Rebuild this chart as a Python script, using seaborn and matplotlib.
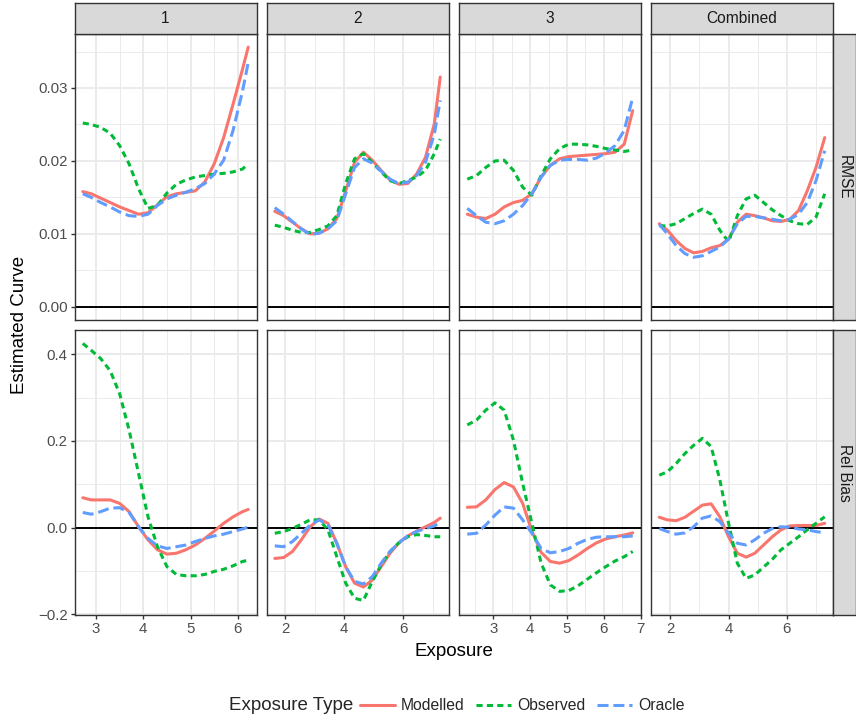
import pandas as pd
import matplotlib.pyplot as plt
import seaborn as sns
from matplotlib.lines import Line2D
from matplotlib.ticker import FixedLocator, FuncFormatter

groups = ['1', '2', '3', 'Combined']
metrics = ['RMSE', 'Rel Bias']
exposure_types = ['Modelled', 'Observed', 'Oracle']

# exposure grid for each column
x_1 = [2.72, 2.9, 3.1, 3.3, 3.5, 3.7, 3.9, 4.1, 4.3, 4.5, 4.7, 4.9, 5.1, 5.3, 5.5, 5.7, 5.9, 6.1, 6.22]
x_2 = [1.65, 1.95, 2.25, 2.55, 2.85, 3.15, 3.45, 3.75, 4.05, 4.35, 4.65, 4.95, 5.25, 5.55, 5.85, 6.15, 6.45, 6.75, 7.05, 7.25]
x_3 = [2.3, 2.55, 2.8, 3.05, 3.3, 3.55, 3.8, 4.05, 4.3, 4.55, 4.8, 5.05, 5.3, 5.55, 5.8, 6.05, 6.3, 6.55, 6.78]
x_comb = [1.62, 1.9, 2.2, 2.5, 2.8, 3.1, 3.4, 3.7, 4.0, 4.3, 4.6, 4.9, 5.2, 5.5, 5.8, 6.1, 6.4, 6.7, 7.0, 7.3]

# RMSE
rmse_modelled_1 = [0.0158, 0.0155, 0.0149, 0.0143, 0.0137, 0.0132, 0.0127, 0.0129, 0.0140, 0.0151, 0.0155, 0.0157, 0.0159, 0.0171, 0.0196, 0.0232, 0.0278, 0.0326, 0.0356]
rmse_observed_1 = [0.0252, 0.0250, 0.0246, 0.0238, 0.0221, 0.0196, 0.0162, 0.0135, 0.0139, 0.0156, 0.0168, 0.0174, 0.0178, 0.0180, 0.0182, 0.0183, 0.0185, 0.0189, 0.0196]
rmse_oracle_1 = [0.0155, 0.0150, 0.0143, 0.0137, 0.0130, 0.0125, 0.0124, 0.0127, 0.0139, 0.0148, 0.0153, 0.0157, 0.0162, 0.0169, 0.0182, 0.0201, 0.0242, 0.0296, 0.0335]

rmse_modelled_2 = [0.0131, 0.0125, 0.0116, 0.0107, 0.0100, 0.0101, 0.0107, 0.0121, 0.0159, 0.0198, 0.0212, 0.0201, 0.0187, 0.0174, 0.0168, 0.0169, 0.0182, 0.0205, 0.0251, 0.0315]
rmse_observed_2 = [0.0112, 0.0109, 0.0105, 0.0102, 0.0102, 0.0106, 0.0111, 0.0125, 0.0169, 0.0203, 0.0210, 0.0198, 0.0185, 0.0173, 0.0169, 0.0173, 0.0178, 0.0187, 0.0210, 0.0230]
rmse_oracle_2 = [0.0136, 0.0127, 0.0117, 0.0107, 0.0099, 0.0101, 0.0107, 0.0118, 0.0155, 0.0191, 0.0203, 0.0197, 0.0186, 0.0175, 0.0169, 0.0171, 0.0180, 0.0198, 0.0237, 0.0283]

rmse_modelled_3 = [0.0127, 0.0123, 0.0121, 0.0127, 0.0137, 0.0143, 0.0146, 0.0155, 0.0178, 0.0194, 0.0203, 0.0206, 0.0207, 0.0208, 0.0209, 0.0210, 0.0212, 0.0223, 0.0269]
rmse_observed_3 = [0.0175, 0.0180, 0.0191, 0.0200, 0.0201, 0.0187, 0.0164, 0.0153, 0.0180, 0.0203, 0.0217, 0.0223, 0.0223, 0.0222, 0.0220, 0.0217, 0.0215, 0.0213, 0.0215]
rmse_oracle_3 = [0.0135, 0.0125, 0.0116, 0.0114, 0.0118, 0.0127, 0.0139, 0.0155, 0.0178, 0.0194, 0.0201, 0.0202, 0.0202, 0.0201, 0.0204, 0.0211, 0.0221, 0.0242, 0.0287]

rmse_modelled_comb = [0.0114, 0.0105, 0.0091, 0.0080, 0.0074, 0.0076, 0.0081, 0.0084, 0.0093, 0.0116, 0.0127, 0.0125, 0.0122, 0.0118, 0.0117, 0.0120, 0.0132, 0.0159, 0.0191, 0.0232]
rmse_observed_comb = [0.0111, 0.0111, 0.0114, 0.0121, 0.0128, 0.0134, 0.0127, 0.0105, 0.0089, 0.0125, 0.0148, 0.0153, 0.0143, 0.0133, 0.0125, 0.0118, 0.0114, 0.0113, 0.0123, 0.0155]
rmse_oracle_comb = [0.0113, 0.0100, 0.0084, 0.0073, 0.0068, 0.0070, 0.0076, 0.0082, 0.0093, 0.0114, 0.0124, 0.0124, 0.0122, 0.0120, 0.0118, 0.0120, 0.0127, 0.0143, 0.0173, 0.0214]

# relative bias
relbias_modelled_1 = [0.069, 0.064, 0.064, 0.064, 0.056, 0.037, 0.002, -0.028, -0.051, -0.061, -0.059, -0.051, -0.040, -0.025, -0.008, 0.010, 0.025, 0.037, 0.042]
relbias_observed_1 = [0.425, 0.409, 0.390, 0.362, 0.309, 0.225, 0.125, 0.025, -0.044, -0.090, -0.108, -0.111, -0.111, -0.108, -0.101, -0.096, -0.088, -0.078, -0.075]
relbias_oracle_1 = [0.035, 0.031, 0.037, 0.045, 0.046, 0.035, 0.002, -0.025, -0.042, -0.048, -0.044, -0.040, -0.032, -0.025, -0.019, -0.015, -0.009, -0.003, 0.001]

relbias_modelled_2 = [-0.071, -0.069, -0.055, -0.028, 0.002, 0.020, 0.010, -0.036, -0.090, -0.128, -0.137, -0.121, -0.090, -0.059, -0.035, -0.019, -0.008, 0.002, 0.012, 0.022]
relbias_observed_2 = [-0.013, -0.009, -0.002, 0.008, 0.018, 0.018, -0.005, -0.067, -0.128, -0.163, -0.168, -0.124, -0.086, -0.055, -0.035, -0.021, -0.016, -0.018, -0.021, -0.021]
relbias_oracle_2 = [-0.042, -0.044, -0.032, -0.013, 0.006, 0.018, 0.006, -0.036, -0.090, -0.124, -0.130, -0.113, -0.082, -0.055, -0.035, -0.019, -0.009, -0.002, 0.004, 0.012]

relbias_modelled_3 = [0.047, 0.048, 0.064, 0.088, 0.104, 0.094, 0.056, -0.008, -0.057, -0.078, -0.082, -0.076, -0.063, -0.048, -0.035, -0.026, -0.021, -0.017, -0.012]
relbias_observed_3 = [0.237, 0.248, 0.271, 0.288, 0.271, 0.202, 0.102, 0.010, -0.082, -0.132, -0.147, -0.145, -0.134, -0.119, -0.104, -0.090, -0.077, -0.067, -0.055]
relbias_oracle_3 = [-0.015, -0.013, 0.006, 0.029, 0.048, 0.045, 0.018, -0.013, -0.048, -0.058, -0.055, -0.048, -0.036, -0.027, -0.022, -0.021, -0.021, -0.021, -0.019]

relbias_modelled_comb = [0.024, 0.018, 0.016, 0.024, 0.038, 0.052, 0.055, 0.025, -0.021, -0.059, -0.068, -0.059, -0.040, -0.021, -0.005, 0.004, 0.005, 0.005, 0.005, 0.010]
relbias_observed_comb = [0.121, 0.129, 0.148, 0.171, 0.190, 0.206, 0.187, 0.110, 0.010, -0.082, -0.117, -0.109, -0.091, -0.073, -0.051, -0.036, -0.021, -0.005, 0.010, 0.025]
relbias_oracle_comb = [-0.002, -0.009, -0.015, -0.012, 0.002, 0.022, 0.027, 0.014, -0.013, -0.036, -0.040, -0.028, -0.013, -0.002, 0.002, 0.001, -0.003, -0.005, -0.009, -0.012]

x_by_group = {'1': x_1, '2': x_2, '3': x_3, 'Combined': x_comb}
curves = {
    ('1', 'RMSE'): [rmse_modelled_1, rmse_observed_1, rmse_oracle_1],
    ('2', 'RMSE'): [rmse_modelled_2, rmse_observed_2, rmse_oracle_2],
    ('3', 'RMSE'): [rmse_modelled_3, rmse_observed_3, rmse_oracle_3],
    ('Combined', 'RMSE'): [rmse_modelled_comb, rmse_observed_comb, rmse_oracle_comb],
    ('1', 'Rel Bias'): [relbias_modelled_1, relbias_observed_1, relbias_oracle_1],
    ('2', 'Rel Bias'): [relbias_modelled_2, relbias_observed_2, relbias_oracle_2],
    ('3', 'Rel Bias'): [relbias_modelled_3, relbias_observed_3, relbias_oracle_3],
    ('Combined', 'Rel Bias'): [relbias_modelled_comb, relbias_observed_comb, relbias_oracle_comb],
}

rows = []
for (g, m), series in curves.items():
    for t, ys in zip(exposure_types, series):
        for xv, yv in zip(x_by_group[g], ys):
            rows.append((g, m, t, xv, yv))
df = pd.DataFrame(rows, columns=['Group', 'Metric', 'Exposure Type', 'Exposure', 'Estimated Curve'])

# styling
palette = {'Modelled': '#F8766D', 'Observed': '#00BA38', 'Oracle': '#619CFF'}
dashes = {'Modelled': '', 'Observed': (2.0, 1.4), 'Oracle': (3.6, 1.6)}
LW = 2.2

sns.set_theme(style='white')
plt.rcParams['font.family'] = ['Liberation Sans', 'DejaVu Sans']

W, H = 856, 720


def box(left, top, width, height):
    return [left / W, 1 - (top + height) / H, width / W, height / H]


col_left = [74.5, 266.5, 459, 651]
col_w = 182
row_top = [34, 330]
row_h = [286, 285]
ylims = {'RMSE': (-0.0018, 0.0374), 'Rel Bias': (-0.2015, 0.456)}
y_major = {'RMSE': [0, 0.01, 0.02, 0.03], 'Rel Bias': [-0.2, 0, 0.2, 0.4]}
y_minor = {'RMSE': [0.005, 0.015, 0.025, 0.035], 'Rel Bias': [-0.1, 0.1, 0.3]}
x_major = {'1': [3, 4, 5, 6], '2': [2, 4, 6], '3': [3, 4, 5, 6, 7], 'Combined': [2, 4, 6]}
x_minor = {'1': [3.5, 4.5, 5.5], '2': [1, 3, 5, 7], '3': [2.5, 3.5, 4.5, 5.5, 6.5], 'Combined': [1, 3, 5, 7]}

fig = plt.figure(figsize=(W / 100, H / 100), dpi=100)
fig.patch.set_facecolor('white')

for r, m in enumerate(metrics):
    for c, g in enumerate(groups):
        ax = fig.add_axes(box(col_left[c], row_top[r], col_w, row_h[r]))
        sub = df[(df['Group'] == g) & (df['Metric'] == m)]
        sns.lineplot(data=sub, x='Exposure', y='Estimated Curve', hue='Exposure Type',
                     style='Exposure Type', hue_order=exposure_types, style_order=exposure_types,
                     palette=palette, dashes=dashes, linewidth=LW, errorbar=None,
                     legend=False, ax=ax, zorder=3)
        ax.axhline(0, color='black', lw=1.4, zorder=2)

        xs = x_by_group[g]
        pad = (max(xs) - min(xs)) * 0.05
        ax.set_xlim(min(xs) - pad, max(xs) + pad)
        ax.set_ylim(*ylims[m])

        ax.xaxis.set_major_locator(FixedLocator(x_major[g]))
        ax.xaxis.set_minor_locator(FixedLocator(x_minor[g]))
        ax.yaxis.set_major_locator(FixedLocator(y_major[m]))
        ax.yaxis.set_minor_locator(FixedLocator(y_minor[m]))
        ax.xaxis.set_major_formatter(FuncFormatter(lambda v, p: f'{v:g}'))
        if m == 'RMSE':
            ax.yaxis.set_major_formatter(FuncFormatter(lambda v, p: f'{v:.2f}'))
        else:
            ax.yaxis.set_major_formatter(FuncFormatter(lambda v, p: f'{v:.1f}'.replace('-', '\u2212')))

        ax.grid(which='major', color='#EBEBEB', lw=1.4)
        ax.grid(which='minor', color='#EBEBEB', lw=0.7)
        ax.set_axisbelow(True)
        for s in ax.spines.values():
            s.set_color('#333333')
            s.set_linewidth(1.0)

        ax.tick_params(which='major', length=2.75, width=1.0, color='#333333',
                       labelsize=10.8, labelcolor='#4D4D4D', pad=2.2,
                       bottom=(r == 1), labelbottom=(r == 1),
                       left=(c == 0), labelleft=(c == 0))
        ax.tick_params(which='minor', length=0)
        ax.set_xlabel('')
        ax.set_ylabel('')

        # column strip on top
        if r == 0:
            sax = fig.add_axes(box(col_left[c], 3, col_w, 31))
            sax.set_facecolor('#D9D9D9')
            sax.set_xticks([])
            sax.set_yticks([])
            for s in sax.spines.values():
                s.set_color('#333333')
                s.set_linewidth(1.0)
            sax.text(0.5, 0.5, g, ha='center', va='center', fontsize=11.2,
                     color='#1A1A1A', transform=sax.transAxes)

    # row strip on the right
    rax = fig.add_axes(box(833, row_top[r], 23, row_h[r]))
    rax.set_facecolor('#D9D9D9')
    rax.set_xticks([])
    rax.set_yticks([])
    for s in rax.spines.values():
        s.set_color('#333333')
        s.set_linewidth(1.0)
    rax.text(0.5, 0.5, m, ha='center', va='center', rotation=-90, fontsize=11.2,
             color='#1A1A1A', transform=rax.transAxes)

fig.text(20 / W, 1 - 324.5 / H, 'Estimated Curve', rotation=90, ha='center', va='center',
         fontsize=13.5, color='black')
fig.text(453.75 / W, 1 - 651 / H, 'Exposure', ha='center', va='center',
         fontsize=13.5, color='black')

# legend along the bottom
fig.text(229 / W, 1 - 706 / H, 'Exposure Type', ha='left', va='center', fontsize=13.5)
handles = [Line2D([0], [0], color=palette[t], lw=LW,
                  linestyle='-' if t == 'Modelled' else (0, dashes[t]))
           for t in exposure_types]
fig.legend(handles, exposure_types, loc='center left', bbox_to_anchor=(360 / W, 1 - 706 / H),
           ncol=3, frameon=False, fontsize=11.3, handlelength=2.2, handletextpad=0.4,
           columnspacing=0.75, borderaxespad=0, borderpad=0)

fig.savefig('out.png', dpi=100, facecolor='white')
